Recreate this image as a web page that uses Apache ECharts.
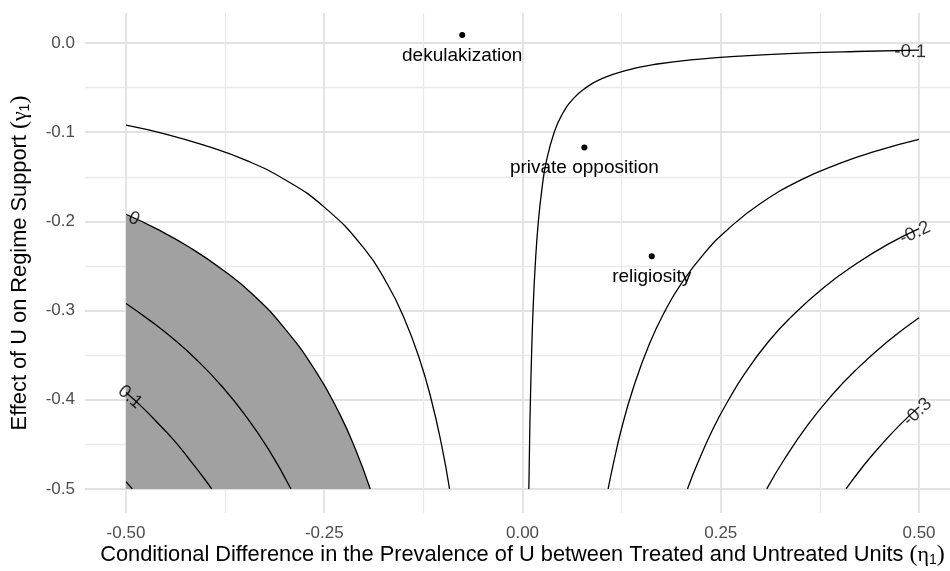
<!DOCTYPE html>
<html><head><meta charset="utf-8">
<script src="https://cdn.jsdelivr.net/npm/echarts@6/dist/echarts.min.js"></script>
<style>html,body{margin:0;padding:0;background:#fff}#c{width:950px;height:571px}</style>
</head><body><div id="c"></div>
<script>
// Axis ticks
const xMajorTicks = [-0.5, -0.25, 0, 0.25, 0.5];
const xMinorTicks = [-0.375, -0.125, 0.125, 0.375];
const yMajorTicks = [0, -0.1, -0.2, -0.3, -0.4, -0.5];
const yMinorTicks = [-0.05, -0.15, -0.25, -0.35, -0.45];

// Contour lines: [eta1, gamma1]
const contour_p015 = [[-0.5,-0.492],[-0.492,-0.5]];
const contour_p010 = [[-0.5,-0.392],[-0.48,-0.408],[-0.46,-0.426],[-0.44,-0.445],[-0.42,-0.467],[-0.40,-0.49],[-0.392,-0.5]];
const contour_p005 = [[-0.5,-0.292],[-0.47,-0.311],[-0.44,-0.332],[-0.41,-0.356],[-0.38,-0.384],[-0.35,-0.417],[-0.32,-0.456],[-0.292,-0.5]];
const contour_000 = [[-0.5,-0.192],[-0.46,-0.209],[-0.42,-0.229],[-0.38,-0.253],[-0.34,-0.282],[-0.30,-0.32],[-0.26,-0.369],[-0.23,-0.417],[-0.21,-0.457],[-0.192,-0.5]];
const contour_m005 = [[-0.5,-0.092],[-0.45,-0.102],[-0.40,-0.115],[-0.35,-0.131],[-0.30,-0.153],[-0.25,-0.184],[-0.20,-0.23],[-0.17,-0.271],[-0.15,-0.307],[-0.13,-0.354],[-0.115,-0.4],[-0.102,-0.451],[-0.092,-0.5]];
const contour_m010 = [[0.008,-0.5],[0.009,-0.444],[0.010,-0.4],[0.0115,-0.348],[0.0133,-0.3],[0.016,-0.25],[0.02,-0.2],[0.025,-0.16],[0.03,-0.133],[0.04,-0.1],[0.05,-0.08],[0.065,-0.0615],[0.08,-0.05],[0.10,-0.04],[0.13,-0.0308],[0.17,-0.0235],[0.22,-0.0182],[0.28,-0.0143],[0.35,-0.0114],[0.42,-0.0095],[0.5,-0.008]];
const contour_m015 = [[0.108,-0.5],[0.115,-0.47],[0.125,-0.432],[0.14,-0.386],[0.16,-0.3375],[0.18,-0.3],[0.20,-0.27],[0.23,-0.235],[0.26,-0.208],[0.30,-0.18],[0.35,-0.154],[0.40,-0.135],[0.45,-0.12],[0.5,-0.108]];
const contour_m020 = [[0.208,-0.5],[0.22,-0.473],[0.24,-0.433],[0.26,-0.4],[0.28,-0.371],[0.31,-0.335],[0.34,-0.306],[0.38,-0.274],[0.42,-0.248],[0.46,-0.226],[0.5,-0.208]];
const contour_m025 = [[0.308,-0.5],[0.33,-0.467],[0.36,-0.428],[0.39,-0.395],[0.42,-0.367],[0.46,-0.335],[0.5,-0.308]];
const contour_m030 = [[0.408,-0.5],[0.43,-0.474],[0.45,-0.453],[0.475,-0.429],[0.5,-0.408]];
const contourLines = [contour_p015, contour_p010, contour_p005, contour_000, contour_m005, contour_m010, contour_m015, contour_m020, contour_m025, contour_m030];

// Region where estimate > 0 (bounded by the 0 contour)
const positiveRegion = contour_000;

// Contour labels
const contourLabelText = ['0.1', '0', '-0.1', '-0.2', '-0.3'];
const contourLabelEta = [-0.495, -0.49, 0.489, 0.495, 0.498];
const contourLabelGamma = [-0.397, -0.197, -0.0099, -0.213, -0.414];
const contourLabelAngle = [-41, -23, -1, 25, 43];

// Benchmark points
const pointNames = ['dekulakization', 'private opposition', 'religiosity'];
const pointEta = [-0.076, 0.078, 0.163];
const pointGamma = [0.009, -0.117, -0.239];

const FONT = "'Liberation Sans', Arial, sans-serif";
const chart = echarts.init(document.getElementById('c'), null, {renderer: 'canvas'});

const X_MIN = -0.5517, X_MAX = 0.5517, Y_MIN = -0.527, Y_MAX = 0.0337;

const nameRich = {
  p: {fontSize: 24, fontFamily: "'Liberation Serif', serif", color: '#000'},
  g: {fontSize: 22, fontFamily: "'Liberation Serif', serif", color: '#000'},
  s: {fontSize: 14, fontFamily: FONT, color: '#000', verticalAlign: 'bottom', padding: [10, 0, 0, 0]}
};

function xAxisDef(ticks, major) {
  return {
    type: 'value', min: X_MIN, max: X_MAX, position: 'bottom',
    axisLine: {show: false},
    axisTick: {show: false, customValues: ticks},
    axisLabel: major ? {show: true, customValues: ticks, color: '#4d4d4d', fontSize: 17, fontFamily: FONT, margin: 12,
      formatter: v => v.toFixed(2)} : {show: false},
    splitLine: {show: true, lineStyle: {color: major ? '#e2e2e2' : '#e9e9e9', width: major ? 1.8 : 1.3}},
    name: major ? 'Conditional Difference in the Prevalence of U between Treated and Untreated Units {p|(}{g|η}{s|1}{p|)}' : '',
    nameLocation: 'middle', nameGap: 30, nameMoveOverlap: false,
    nameTextStyle: {color: '#000', fontSize: 21.8, fontFamily: FONT, rich: nameRich}
  };
}
function yAxisDef(ticks, major) {
  return {
    type: 'value', min: Y_MIN, max: Y_MAX, position: 'left',
    axisLine: {show: false},
    axisTick: {show: false, customValues: ticks},
    axisLabel: major ? {show: true, customValues: ticks, color: '#4d4d4d', fontSize: 17, fontFamily: FONT, margin: 10,
      formatter: v => v.toFixed(1)} : {show: false},
    splitLine: {show: true, lineStyle: {color: major ? '#e2e2e2' : '#e9e9e9', width: major ? 1.8 : 1.3}},
    name: major ? 'Effect of U on Regime Support {p|(}{g|γ}{s|1}{p|)}' : '',
    nameLocation: 'middle', nameGap: 53, nameMoveOverlap: false,
    nameTextStyle: {color: '#000', fontSize: 21.8, fontFamily: FONT, rich: nameRich}
  };
}

const series = [];
series.push({
  type: 'line', xAxisIndex: 0, yAxisIndex: 0, data: positiveRegion, smooth: true,
  showSymbol: false, symbol: 'none', lineStyle: {width: 0, opacity: 0},
  areaStyle: {color: '#a1a1a1', opacity: 1, origin: -0.5}, z: 2, silent: true
});
contourLines.forEach(d => series.push({
  type: 'line', xAxisIndex: 0, yAxisIndex: 0, data: d, smooth: d.length > 2,
  showSymbol: false, symbol: 'none', lineStyle: {color: '#000', width: 1.3}, z: 3, silent: true
}));
series.push({
  type: 'scatter', xAxisIndex: 0, yAxisIndex: 0, symbolSize: 0, z: 5, silent: true,
  data: contourLabelText.map((t, i) => ({
    value: [contourLabelEta[i], contourLabelGamma[i]],
    label: {show: true, formatter: t, rotate: contourLabelAngle[i], position: 'inside',
      color: '#000', fontSize: 18.5, fontFamily: FONT, textBorderWidth: 0}
  }))
});
series.push({
  type: 'scatter', xAxisIndex: 0, yAxisIndex: 0, symbolSize: 6, itemStyle: {color: '#000', opacity: 1}, z: 6, silent: true,
  data: pointNames.map((n, i) => ({value: [pointEta[i], pointGamma[i]], name: n})),
  label: {show: true, position: 'bottom', distance: 8, formatter: p => p.name, color: '#000', fontSize: 19, fontFamily: FONT, textBorderWidth: 0}
});

chart.setOption({
  animation: false,
  backgroundColor: '#fff',
  grid: {left: 85, top: 13, width: 875, height: 500, containLabel: false, outerBoundsMode: 'none'},
  xAxis: [xAxisDef(xMajorTicks, true), xAxisDef(xMinorTicks, false)],
  yAxis: [yAxisDef(yMajorTicks, true), yAxisDef(yMinorTicks, false)],
  series: series
});
</script></body></html>
